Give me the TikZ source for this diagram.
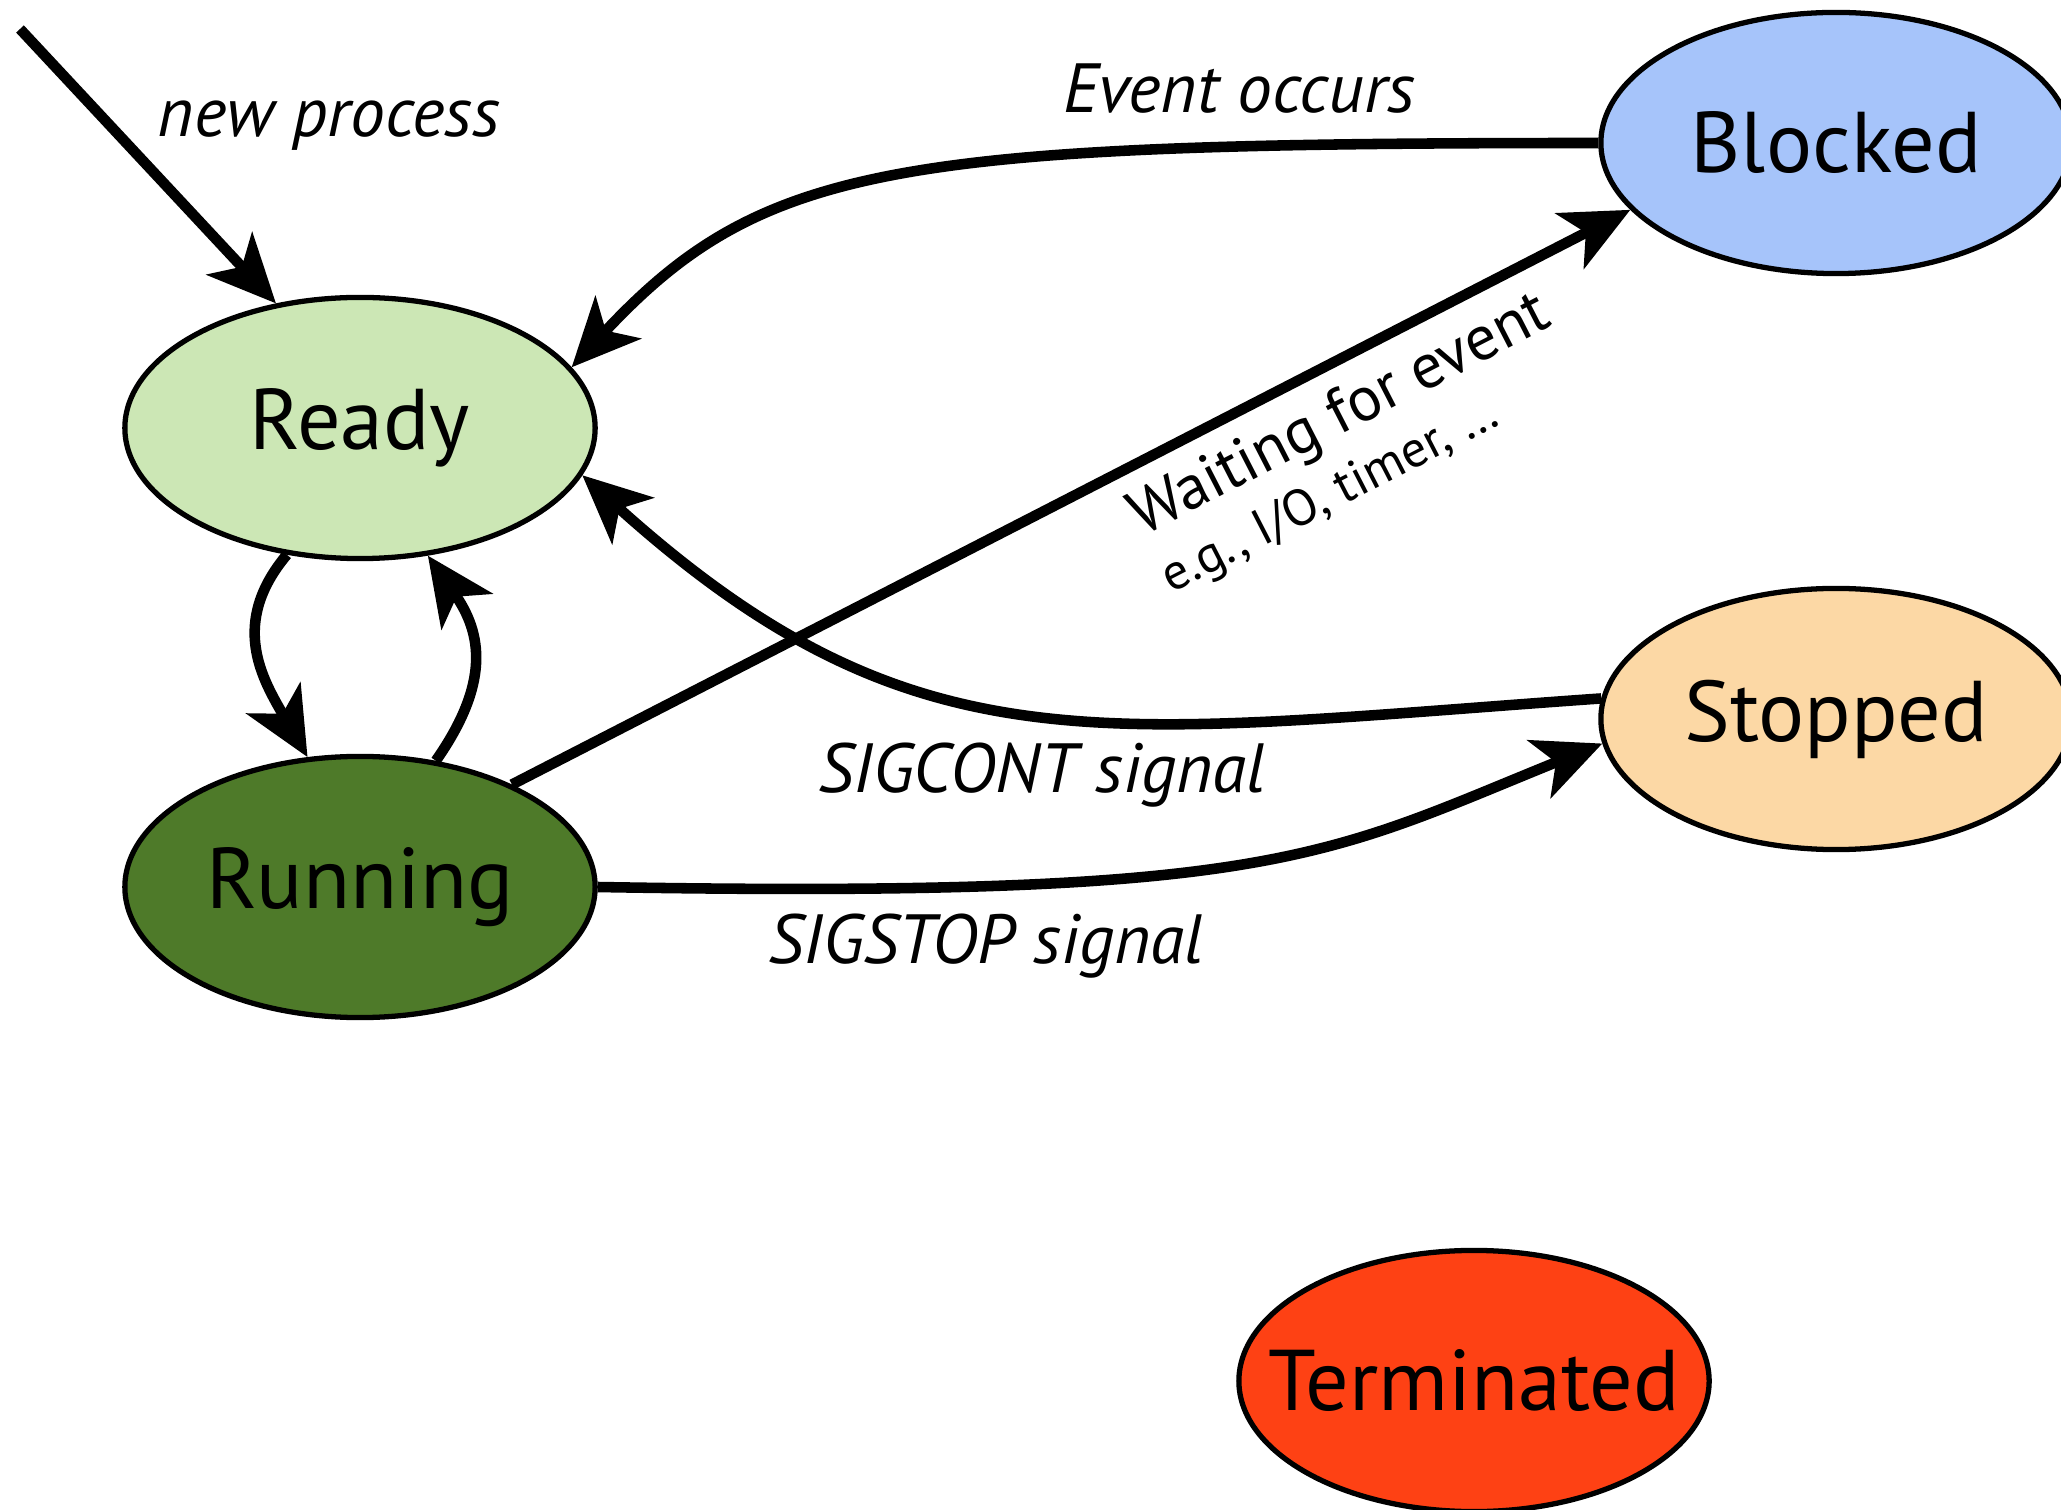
\documentclass[tikz,border=0pt]{standalone}
\usepackage{fontspec}
\setmainfont{PT Sans}
\usetikzlibrary{shapes.geometric,arrows.meta}

\definecolor{readygreen}{RGB}{204,231,181}
\definecolor{runninggreen}{RGB}{78,122,41}
\definecolor{blockedblue}{RGB}{166,196,250}
\definecolor{stoppedorange}{RGB}{252,216,165}
\definecolor{terminatedred}{RGB}{254,65,20}

\begin{document}
\begin{tikzpicture}[
		x=0.01cm, y=0.01cm,
		state/.style={ellipse, draw, line width=1.5pt, minimum width=4.7cm, minimum height=2.61cm,
			inner xsep=-2cm, inner ysep=0pt, font=\fontsize{24.5}{30}\selectfont},
		trans/.style={line width=3pt, -{Stealth[length=6.8mm, width=6.2mm, inset=1.8mm]}},
		lbl/.style={font=\fontsize{19.8}{24}\selectfont\itshape}
		]
		\useasboundingbox (0,0) rectangle (2061,-1510);
		\clip (0,0) rectangle (2061,-1510);

		\node[state, fill=readygreen] (ready) at (360,-428) {Ready};
		\node[state, fill=runninggreen] (running) at (360,-887) {Running};
		\node[state, fill=blockedblue] (blocked) at (1836,-143) {Blocked};
		\node[state, fill=stoppedorange] (stopped) at (1836,-719) {Stopped};
		\node[state, fill=terminatedred] (terminated) at (1474,-1381) {Terminated};

		\coordinate (newstart) at (20,-29);
		\node[lbl] (newlbl) at (329,-126) {new process};
		\node[lbl] (eventlbl) at (1239,-89) {Event occurs};
		\node[lbl] (contlbl) at (1042,-775) {SIGCONT signal};
		\node[lbl] (stoplbl) at (986,-946) {SIGSTOP signal};

		\draw[trans] (newstart) -- (ready.124);
		\draw[trans] (blocked.west) .. controls +(180:700) and +(47:280) .. (ready.16);
		\draw[trans] (running.34) -- node[pos=0.72, sloped, below, align=left, inner sep=5pt]
			{\fontsize{18}{21}\selectfont Waiting for event\\[3pt]\fontsize{14.5}{16}\selectfont e.g., I/O, timer, \dots} (blocked.198);
		\draw[trans] (stopped.175) .. controls +(184:500) and +(-42:450) .. (ready.-12);
		\draw[trans] (running.east) .. controls +(-1:680) and +(202:300) .. (stopped.186);
		\draw[trans] (ready.240) .. controls +(230:90) and +(120:90) .. (running.112);
		\draw[trans] (running.59) .. controls +(55:95) and +(-55:95) .. (ready.298);
	\end{tikzpicture}
\end{document}
